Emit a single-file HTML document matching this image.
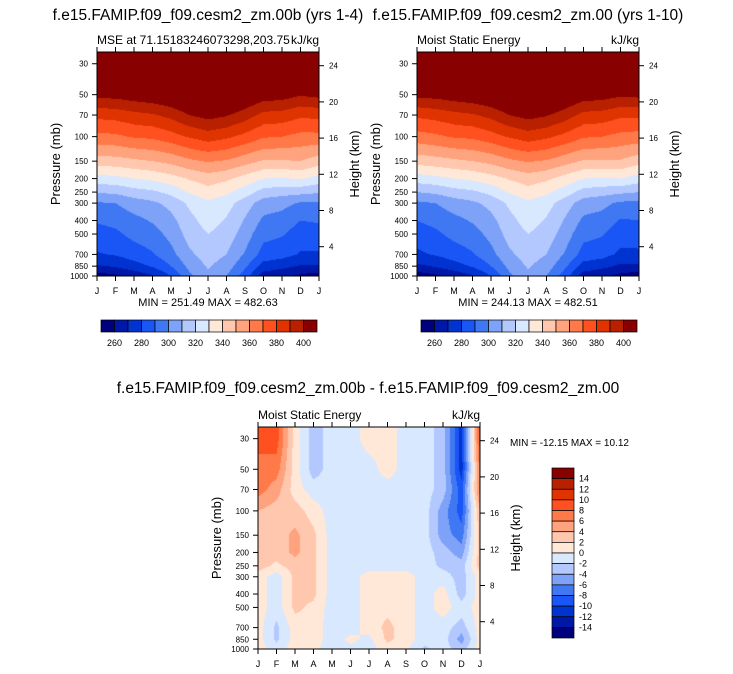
<!DOCTYPE html>
<html><head><meta charset="utf-8"><style>
body{margin:0;background:#fff;width:733px;height:674px;overflow:hidden;position:relative;font-family:"Liberation Sans",sans-serif}
canvas{position:absolute}
svg{position:absolute;left:0;top:0}
</style></head><body>
<canvas id="c1" style="left:97px;top:52px" width="222" height="224"></canvas>
<canvas id="c2" style="left:417px;top:52px" width="222" height="224"></canvas>
<canvas id="c3" style="left:258px;top:427px" width="222" height="222"></canvas>
<svg id="ov" width="733" height="674"></svg>
<script>
const months=["J","F","M","A","M","J","J","A","S","O","N","D","J"];
const pressures=[30,50,70,100,150,200,250,300,400,500,700,850,1000];
const pTicks=[30,50,70,100,150,200,250,300,400,500,700,850,1000];
const kmTicks=[24,20,16,12,8,4];
const colors=["#00007f","#0018a8","#0033d0","#1a55f5","#3f78f2","#7ea2f8","#b3c8ff","#d8e8ff","#ffe8d8","#ffc8ae","#ffa27e","#ff7a48","#ff5020","#e03400","#b82000","#880000"];
const mseLevels=[260,270,280,290,300,310,320,330,340,350,360,370,380,390,400];
const mseLabels=[260,280,300,320,340,360,380,400];
const diffLevels=[-14,-12,-10,-8,-6,-4,-2,0,2,4,6,8,10,12,14];
const mse1=[
[440,440,441,442,443,444,445,444,443,441,440,440,440],
[403,404,406,408,411,417,420,418,412,406,405,401,403],
[383,384,387,389,393,400,404,401,395,387,386,382,383],
[367,368,371,372,376,381,385,382,377,371,370,367,367],
[345,346,348,350,353,358,361,359,354,349,349,350,345],
[326,327,330,332,336,341,345,342,336,330,329,331,326],
[311,312,316,318,323,331,336,332,325,316,314,313,311],
[299,300,305,308,313,322,328,324,315,305,303,299,299],
[291,293,297,301,307,317,324,319,309,298,296,290,291],
[286,288,293,296,303,314,320,316,305,293,291,285,286],
[279,281,285,289,297,308,315,310,299,286,284,279,279],
[269,271,276,281,290,303,311,305,292,276,273,269,269],
[255,258,263,269,280,298,308,300,285,265,262,258,255]];
const mse2=[
[440,440,441,442,443,444,445,444,443,441,440,440,440],
[403,404,406,408,411,417,420,418,412,406,405,402,403],
[382,384,387,389,393,400,404,401,395,387,386,382,382],
[366,368,371,372,376,381,385,382,377,371,370,367,366],
[344,346,348,350,353,358,361,359,354,349,349,349,344],
[325,327,330,332,336,341,345,342,336,330,329,330,325],
[310,312,316,318,323,331,336,332,325,316,314,312,310],
[298,300,305,308,313,322,328,324,315,305,303,298,298],
[290,293,297,301,307,317,324,319,309,298,296,289,290],
[285,288,293,296,303,314,320,316,305,293,291,284,285],
[278,281,285,289,297,308,315,310,299,286,284,278,278],
[268,271,276,281,290,303,311,305,292,276,273,268,268],
[254,258,263,269,280,298,308,300,285,265,262,257,254]];
const diff=[
[9,9,1,-3,-1,-1,1,1,-1,-1,-3,-11,9],
[7,7,1,-3,-1,-1,-1,1,-1,-1,-3,-11,7],
[7,5,1,-1,-1,-1,-1,-1,-1,-1,-3,-9,7],
[4,3,3,1,-1,-1,-1,-1,-1,-1,-5,-9,4],
[3,3,4.5,2.5,-1,-1,-1,-1,-1,-1,-5,-7,3],
[3,3,4.5,2.5,-1,-1,-1,-1,-1,-1,-3,-5,3],
[3,1.5,3,2.5,-1,-1,-1,-1,-1,-1,-2.5,-3,3],
[1,-1,2.5,2.5,-1,-1,1,1,1,-1,-1,-3,1],
[1,-1,2.5,2.5,-1,-1,1,1,1,-1,1,-3,1],
[1,-1,2.5,1.5,-1,-1,1,1.5,1,-1,1,-1,1],
[1,-2.5,1,1,-1,-1,1,2.5,1,-1,-1,-3,1],
[1,-2.5,1,1,-1,0.5,-0.5,2.5,1,-1,-1,-5,1],
[1,-1,1,0.5,-1,-0.5,-1,1,0.5,-2.5,-1,-3,1]];

const LN=pressures.map(p=>Math.log(p));
function sample(g,mf,lp){
  let i=0;while(i<LN.length-2&&lp>LN[i+1])i++;
  let t=(lp-LN[i])/(LN[i+1]-LN[i]);t=Math.max(0,Math.min(1,t));
  let j=Math.min(11,Math.floor(mf));let s=mf-j;
  const a=g[i][j]*(1-s)+g[i][j+1]*s,b=g[i+1][j]*(1-s)+g[i+1][j+1]*s;
  return a*(1-t)+b*t;
}
const B=60.45;
function drawField(id,g,levels){
  const c=document.getElementById(id),ctx=c.getContext('2d');
  const W=c.width,H=c.height;
  for(let y=0;y<H;y++){const lp=Math.log(1000)-(H-y-0.5)/B*(223.7/H);
    for(let x=0;x<W;x++){const v=sample(g,(x+0.5)/W*12,lp);
      let k=0;while(k<levels.length&&v>=levels[k])k++;
      ctx.fillStyle=colors[k];ctx.fillRect(x,y,1,1);}}
}
drawField('c1',mse1,mseLevels);drawField('c2',mse2,mseLevels);drawField('c3',diff,diffLevels);

const NS="http://www.w3.org/2000/svg",ov=document.getElementById('ov');
function el(t,a,txt){const e=document.createElementNS(NS,t);for(const k in a)e.setAttribute(k,a[k]);if(txt!==undefined)e.textContent=txt;ov.appendChild(e);return e;}
function axes(x0,y0,w,h,sub1,sub2,px){
  const f=el('rect',{x:x0,y:y0,width:w,height:h,fill:'none',stroke:'#000','stroke-width':1});
  
  
  months.forEach((m,i)=>{const x=x0+i*w/12;
    el('line',{x1:x,x2:x,y1:y0,y2:y0-5,stroke:'#000'});
    el('line',{x1:x,x2:x,y1:y0+h,y2:y0+h+5,stroke:'#000'});
    const t=el('text',{x:x,y:y0+h+18,'font-size':9,'text-anchor':'middle'},m);
    
    });
  pTicks.forEach(p=>{const y=y0+h-B*Math.log(1000/p)*(h/223.7);
    el('line',{x1:x0,x2:x0-5,y1:y,y2:y,stroke:'#000'});
    const t=el('text',{x:x0-9,y:y+3,'font-size':8,'text-anchor':'end'},p);
    
    });
  kmTicks.forEach(z=>{const y=y0+230.9-9.05*z;
    el('line',{x1:x0+w,x2:x0+w+5,y1:y,y2:y,stroke:'#000'});
    const t=el('text',{x:x0+w+10,y:y+3,'font-size':8},z);
    
    });
  const yl=el('text',{x:0,y:0,'font-size':13,'text-anchor':'middle',transform:`translate(${x0-37},${y0+h/2}) rotate(-90)`},'Pressure (mb)');
  
  
  const yr=el('text',{x:0,y:0,'font-size':13,'text-anchor':'middle',transform:`translate(${x0+w+40},${y0+h/2}) rotate(-90)`},'Height (km)');
  
  
  const s1=el('text',{x:x0,y:y0-8,'font-size':12},sub1);
  
  
  const s2=el('text',{x:x0+w,y:y0-8,'font-size':12,'text-anchor':'end'},sub2);
  
  
}
function title(x,y,s,px){const t=el('text',{x:x,y:y,'font-size':15.5,'text-anchor':'middle'},s);
  
  }
function hbar(x0,y0,w,h,px){
  const bw=w/16;
  colors.forEach((c,i)=>{const r=el('rect',{x:x0+i*bw,y:y0,width:bw,height:h,fill:c,stroke:'#000','stroke-width':0.7});
    
    });
  mseLabels.forEach(v=>{const k=mseLevels.indexOf(v)+1;
    const t=el('text',{x:x0+k*bw,y:y0+h+14,'font-size':9,'text-anchor':'middle'},v);
    
    });
}
title(208,20,'f.e15.FAMIP.f09_f09.cesm2_zm.00b (yrs 1-4)','left');
title(528,20,'f.e15.FAMIP.f09_f09.cesm2_zm.00 (yrs 1-10)','right');
title(368,393,'f.e15.FAMIP.f09_f09.cesm2_zm.00b - f.e15.FAMIP.f09_f09.cesm2_zm.00','diff');
axes(97,52,222,224,'MSE at 71.15183246073298,203.75','kJ/kg','left');
axes(417,52,222,224,'Moist Static Energy','kJ/kg','right');
axes(258,427,222,222,'Moist Static Energy','kJ/kg','diff');
let m=el('text',{x:208,y:306,'font-size':11,'text-anchor':'middle'},'MIN = 251.49 MAX = 482.63');

m=el('text',{x:528,y:306,'font-size':11,'text-anchor':'middle'},'MIN = 244.13 MAX = 482.51');

m=el('text',{x:510,y:446,'font-size':10},'MIN = -12.15 MAX =  10.12');

hbar(101,320,216,12,'left');hbar(421,320,216,12,'right');
// vertical colorbar for difference
const vx=552,vy=468,vw=22,vh=170,bh=vh/16;
colors.slice().reverse().forEach((c,i)=>{const r=el('rect',{x:vx,y:vy+i*bh,width:vw,height:bh,fill:c,stroke:'#000','stroke-width':0.7});
  
  });
diffLevels.slice().reverse().forEach((v,i)=>{const t=el('text',{x:vx+vw+5,y:vy+(i+1)*bh+3,'font-size':9},v);
  
  });
</script>
</body></html>
